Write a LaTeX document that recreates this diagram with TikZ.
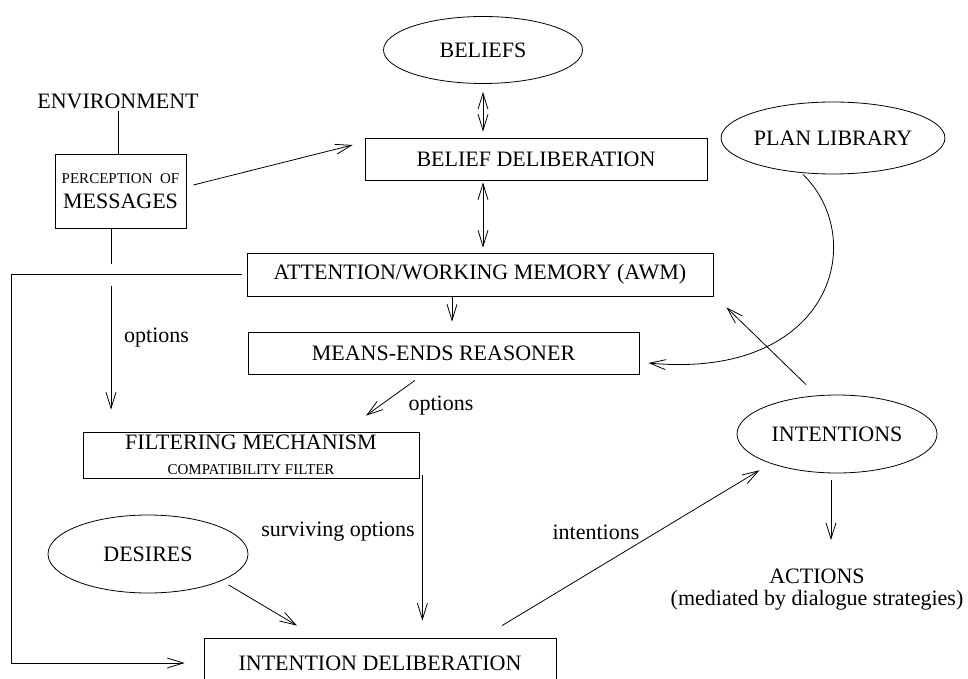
\documentclass[tikz,border=0pt]{standalone}
\usepackage{fontspec}
\setmainfont{Liberation Serif}
\usetikzlibrary{arrows.meta,shapes.geometric}
\tikzset{
  line/.style={line width=0.8pt},
  box/.style={draw, line width=0.8pt, inner sep=0pt, font=\fontsize{22}{25}\selectfont},
  blob/.style={draw, ellipse, line width=0.8pt, inner sep=0pt, font=\fontsize{22}{25}\selectfont},
  plain/.style={inner sep=0pt, font=\fontsize{22}{22}\selectfont},
  arr/.style={line width=0.8pt, -{Straight Barb[length=16pt,width=10pt]}},
  arrboth/.style={line width=0.8pt, {Straight Barb[length=16pt,width=10pt]}-{Straight Barb[length=16pt,width=10pt]}},
}
\newcommand{\smalltxt}{\fontsize{15}{17}\selectfont}

\begin{document}
\begin{tikzpicture}[x=1pt,y=-1pt]
\useasboundingbox (0,0) rectangle (968,679);

% ellipses
\node[blob, minimum width=199pt, minimum height=67pt] (beliefs) at (483,50) {BELIEFS};
\node[blob, minimum width=191pt, minimum height=72pt] (plan) at (833,138) {PLAN LIBRARY};
\node[blob, minimum width=200pt, minimum height=78pt] (intentions) at (837,434) {INTENTIONS};
\node[blob, minimum width=200pt, minimum height=78pt] (desires) at (148,554) {DESIRES};

% boxes
\node[box, minimum width=131pt, minimum height=74pt, align=center] (perc) at (120.5,191) {{\smalltxt PERCEPTION\ \ OF}\\MESSAGES};
\node[box, minimum width=342pt, minimum height=42pt] (bdelib) at (536,159) {BELIEF DELIBERATION};
\node[box, minimum width=466pt, minimum height=43pt] (awm) at (480,274.5) {ATTENTION/WORKING MEMORY (AWM)};
\node[box, minimum width=391pt, minimum height=42pt] (means) at (443.5,353) {MEANS-ENDS REASONER};
\node[box, minimum width=336pt, minimum height=46pt, align=center] (filter) at (251,455) {FILTERING MECHANISM\\{\smalltxt COMPATIBILITY FILTER}};
\node[box, minimum width=352pt, minimum height=50pt] (idelib) at (380,663) {INTENTION DELIBERATION};

% free text
\node[plain] (env) at (118,101) {ENVIRONMENT};
\node[plain, align=center] (actions) at (817,590) {ACTIONS\\(mediated by dialogue strategies)};

% edge labels
\node[plain, anchor=west] (lopt) at (124,338) {options};
\node[plain] (mopt) at (441,406) {options};
\node[plain] (sopt) at (338,532) {surviving options};
\node[plain] (iopt) at (596,532) {intentions};

% connectors
\draw[line] ([yshift=-2pt]env.south) -- (env.south |- perc.north);
\draw[line, shorten >=11pt] ([xshift=-9.5pt]perc.south) -- ([xshift=-9.5pt]perc.south |- awm.west);
\draw[arr, shorten <=11pt, shorten >=22pt] ([xshift=-9.5pt]perc.south |- awm.west) -- ([xshift=-9.5pt]perc.south |- filter.north);
\draw[arr] ([xshift=7pt,yshift=6pt]perc.east) -- ([xshift=-12pt,yshift=14pt]bdelib.west);
\draw[arrboth, shorten <=8pt, shorten >=6pt] (beliefs.south) -- (beliefs.south |- bdelib.north);
\draw[arrboth, shorten <=2pt, shorten >=5pt] (beliefs.south |- bdelib.south) -- (beliefs.south |- awm.north);
\draw[arr, shorten >=10pt] ([xshift=-28pt]awm.south) -- ([xshift=-28pt]awm.south |- means.north);
\draw[arr] ([xshift=-28.5pt,yshift=-6pt]means.south) -- ([xshift=115pt,yshift=16pt]filter.north);
\draw[arr, shorten >=17pt] ([xshift=3pt,yshift=3pt]filter.south east) -- ([xshift=3pt]filter.south east |- idelib.north);
\draw[arr, shorten <=8pt] (desires.-20) -- ([xshift=-83pt,yshift=12pt]idelib.north);
\draw[arr, shorten >=13pt] ([xshift=122pt,yshift=12pt]idelib.north) -- (intentions.204);
\draw[arr, shorten <=7pt, shorten >=29pt] ([xshift=-6pt]intentions.south) -- ([xshift=-6pt]intentions.south |- actions.north);
\draw[arr] ([xshift=-31pt,yshift=10pt]intentions.north) -- ([xshift=13pt,yshift=-11pt]awm.south east);
\draw[arr] ([xshift=-30pt]plan.south) .. controls +(67,66) and +(182,17) .. ([xshift=9pt,yshift=-10pt]means.east);
\draw[arr] ([xshift=-5pt]awm.west) -- ++(-230,0) |- ([xshift=-19pt]idelib.west);

\end{tikzpicture}
\end{document}
